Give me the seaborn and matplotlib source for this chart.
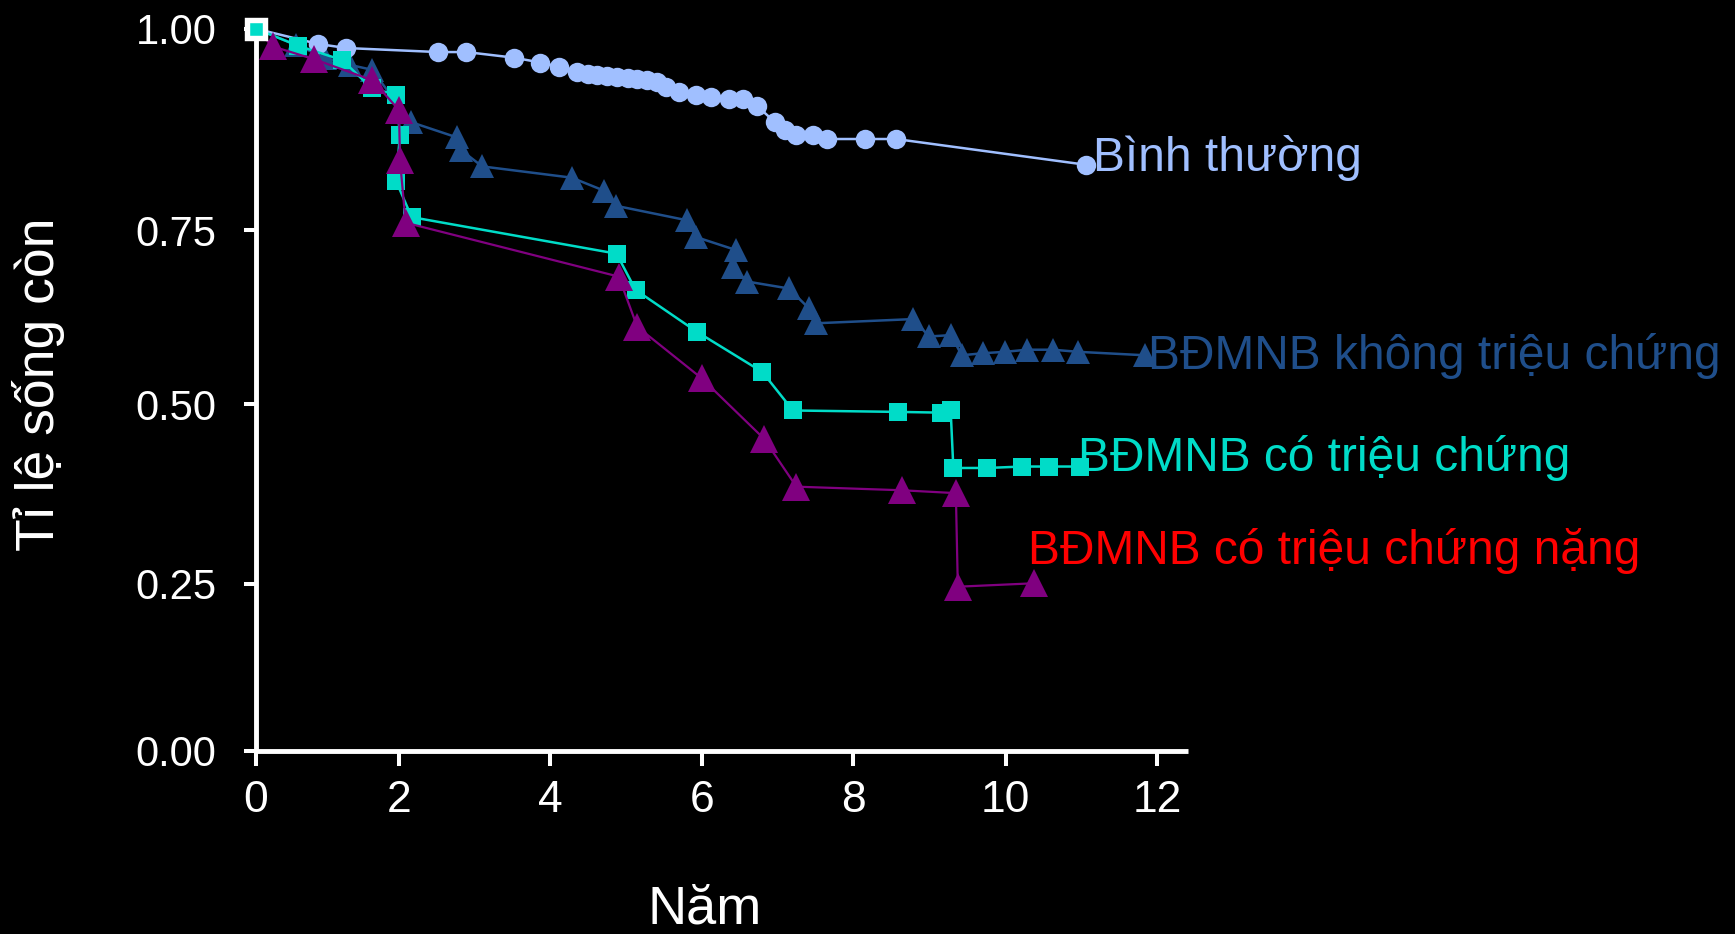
import numpy as np
import pandas as pd
import matplotlib
matplotlib.use("Agg")
import matplotlib.pyplot as plt
import seaborn as sns

# ---------------- data ----------------
normal_years = [0, 0.874, 1.264, 2.511, 2.889, 3.522, 3.870, 4.112, 4.358, 4.498, 4.622,
                4.754, 4.881, 5.018, 5.145, 5.269, 5.401, 5.520, 5.699, 5.916, 6.114,
                6.356, 6.545, 6.729, 6.963, 7.095, 7.249, 7.468, 7.658, 8.150, 8.559, 11.062]
normal_surv = [1.0, .981, .976, .971, .971, .964, .958, .953, .946, .944, .942,
               .941, .940, .939, .938, .936, .934, .927, .921, .918, .915,
               .913, .913, .904, .884, .874, .868, .868, .863, .863, .863, .831]

asym_years = [0, 0.562, 0.967, 1.316, 1.623, 2.158, 2.765, 2.824, 3.099, 4.282, 4.704,
              4.869, 5.806, 5.918, 6.455, 6.410, 6.594, 7.145, 7.409, 7.510, 8.785,
              8.996, 9.282, 9.423, 9.708, 9.995, 10.281, 10.624, 10.953, 11.841]
asym_surv = [1.0, .980, .964, .955, .949, .884, .865, .849, .829, .815, .799,
             .780, .762, .740, .721, .697, .676, .666, .638, .616, .622,
             .597, .599, .570, .573, .575, .578, .578, .575, .570]

sym_years = [0, .586, 1.209, 1.619, 1.958, 2.013, 1.958, 2.167, 4.873, 5.124, 5.929,
             6.798, 7.202, 8.587, 9.146, 9.278, 9.313, 9.761, 10.215, 10.566, 10.984]
sym_surv = [1.0, .979, .961, .926, .918, .868, .811, .766, .716, .664, .604,
            .546, .491, .489, .488, .491, .411, .411, .413, .413, .413]

severe_years = [0, .237, .818, 1.627, 2.0, 2.013, 2.088, 4.903, 5.146, 5.995, 6.817,
                7.248, 8.634, 9.346, 9.372, 10.375]
severe_surv = [1.0, .978, .962, .936, .899, .837, .759, .683, .611, .537, .452,
               .385, .380, .376, .2455, .2506]

labels = ["Bình thường", "BĐMNB không triệu chứng", "BĐMNB có triệu chứng",
          "BĐMNB có triệu chứng nặng"]
y_ticks = [0.0, 0.25, 0.50, 0.75, 1.00]
x_ticks = [0, 2, 4, 6, 8, 10, 12]
x_label = "Năm"
y_label = "Tỉ lệ sống còn"

# ---------------- style ----------------
sns.set_theme(style="ticks")
plt.rcParams["font.family"] = ["Liberation Sans", "DejaVu Sans"]
plt.rcParams["axes.facecolor"] = "black"
plt.rcParams["figure.facecolor"] = "black"

W, H = 1735, 934
fig = plt.figure(figsize=(W / 100, H / 100), dpi=100)
x0, x1 = 255.7, 1188.0
y0, y1 = 750.7, 28.7
ax = fig.add_axes([x0 / W, 1 - y0 / H, (x1 - x0) / W, (y0 - y1) / H])
ax.set_facecolor("black")

# the hand-drawn axes are slightly uneven: piecewise-linear scales
yk_v = np.array([-1, 0, .25, .5, .75, 1, 2])
yk_p = np.array([-722, 0, 167, 346.7, 520.7, 722, 1444])
xk_v = np.array([-2, 0, 2, 4, 6, 8, 10, 12, 14])
xk_p = np.array([-143.3, 0, 143.3, 294.6, 446.3, 597.6, 750, 901.3, 1052.6])
ax.set_yscale("function", functions=(lambda v: np.interp(v, yk_v, yk_p),
                                     lambda p: np.interp(p, yk_p, yk_v)))
ax.set_xscale("function", functions=(lambda v: np.interp(v, xk_v, xk_p),
                                     lambda p: np.interp(p, xk_p, xk_v)))

c_normal = "#A0BFFF"
c_asym = "#1F4E8A"
c_sym = "#00DCC8"
c_severe = "#800080"
c_red = "#FF0000"

series = [
    (asym_years, asym_surv, c_asym, "^", 17, 1.8),
    (normal_years, normal_surv, c_normal, "o", 14, 1.8),
    (sym_years, sym_surv, c_sym, "s", 13.5, 1.8),
    (severe_years, severe_surv, c_severe, "^", 20.5, 1.6),
]
for i, (xs, ys, col, mk, ms, lw) in enumerate(series):
    df = pd.DataFrame({"x": xs, "y": ys})
    sns.lineplot(data=df, x="x", y="y", ax=ax, sort=False, estimator=None,
                 color=col, linewidth=lw, marker=mk, markersize=ms,
                 markeredgewidth=0, markeredgecolor=col,
                 markevery=slice(1, None), clip_on=False, zorder=3 + i)

# start point: teal square with white border
ax.plot(sym_years[:1], sym_surv[:1], linestyle="none", marker="s", markersize=13.4,
        markerfacecolor=c_sym, markeredgecolor="white", markeredgewidth=3.9,
        clip_on=False, zorder=10)

ax.set_xlim(0, 12.41)
ax.set_ylim(0, 1.0)
ax.set_xticks(x_ticks)
ax.set_xticklabels([str(t) for t in x_ticks])
ax.set_yticks(y_ticks)
ax.set_yticklabels([f"{t:.2f}" for t in y_ticks])
ax.set_xlabel("")
ax.set_ylabel("")
ax.grid(False)

for s in ["top", "right"]:
    ax.spines[s].set_visible(False)
for s in ["left", "bottom"]:
    ax.spines[s].set_color("white")
    ax.spines[s].set_linewidth(3.5)
    ax.spines[s].set_capstyle("butt")

ax.tick_params(axis="y", length=8.9, width=2.9, pad=19.5, labelsize=30,
               colors="white", direction="out")
ax.tick_params(axis="x", length=10.8, width=2.9, pad=10, labelsize=32,
               colors="white", direction="out")

# axis titles
fig.text(38.7 / W, 1 - 384 / H, y_label, rotation=90, ha="center", va="center",
         fontsize=38.5, color="white")
fig.text(705 / W, 1 - 910 / H, x_label, ha="center", va="center",
         fontsize=39, color="white")

# series labels
label_pos = [(1093, 171, c_normal), (1147.5, 369, c_asym), (1078, 471, c_sym),
             (1028, 564, c_red)]
for txt, (px, py, col) in zip(labels, label_pos):
    fig.text(px / W, 1 - py / H, txt, ha="left", va="baseline", fontsize=34.5, color=col)

fig.savefig("out.png", dpi=100, facecolor="black")
